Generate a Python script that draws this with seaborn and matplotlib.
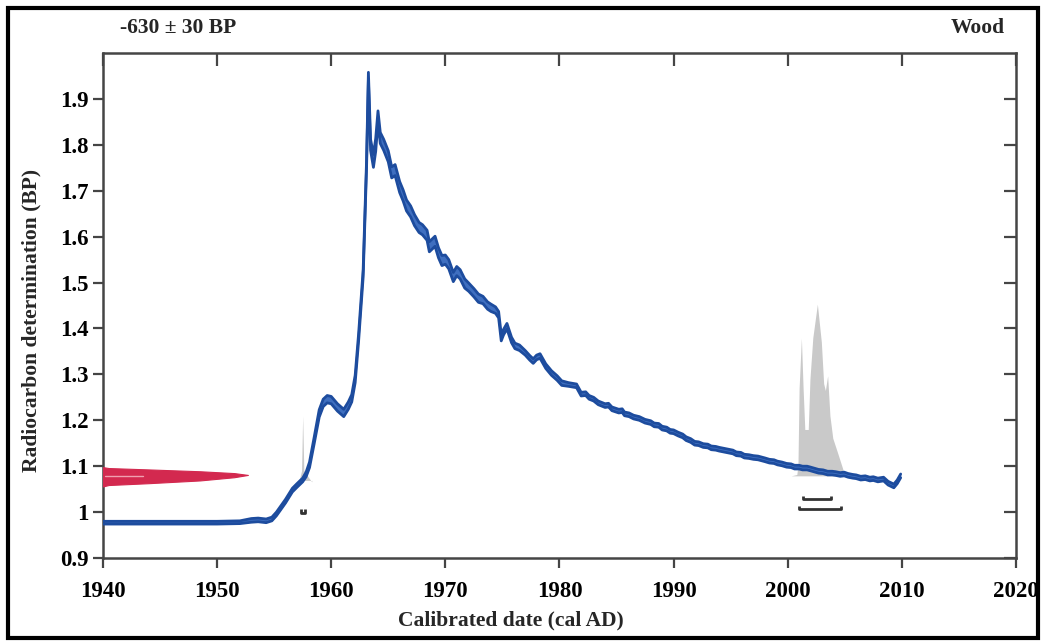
import matplotlib
matplotlib.use("Agg")
import matplotlib.pyplot as plt
import seaborn as sns
import pandas as pd
from matplotlib.patches import Rectangle

# ---------------- data ----------------
curve_year = [1940.0, 1945.0, 1950.0, 1952.0, 1953.0, 1953.6, 1954.3, 1954.8, 1955.2, 1955.6,
              1956.0, 1956.6, 1957.0, 1957.5, 1957.8, 1958.1, 1958.5, 1958.95, 1959.3, 1959.65,
              1960.0, 1960.55, 1961.1, 1961.5, 1961.8, 1962.1, 1962.4, 1962.8, 1963.1, 1963.26,
              1963.45, 1963.7, 1963.9, 1964.1, 1964.3, 1964.6, 1965.0, 1965.3, 1965.6, 1966.0,
              1966.3, 1966.6, 1966.96, 1967.3, 1967.7, 1968.0, 1968.4, 1968.6, 1969.1, 1969.4,
              1969.7, 1970.0, 1970.3, 1970.7, 1971.0, 1971.3, 1971.7, 1972.05, 1972.5, 1972.9,
              1973.3, 1973.7, 1974.0, 1974.4, 1974.67, 1974.9, 1975.1, 1975.4, 1975.8, 1976.1,
              1976.5, 1977.0, 1977.4, 1977.7, 1978.0, 1978.3, 1978.8, 1979.3, 1979.8, 1980.2,
              1980.8, 1981.5, 1981.9, 1982.3, 1982.6, 1983.0, 1983.4, 1984.0, 1984.3, 1984.6,
              1985.2, 1985.5, 1985.7, 1986.1, 1986.5, 1987.0, 1987.5, 1988.0, 1988.3, 1988.7,
              1989.0, 1989.4, 1989.7, 1990.0, 1990.4, 1990.8, 1991.1, 1991.5, 1991.85, 1992.2,
              1992.6, 1993.0, 1993.3, 1993.7, 1994.0, 1994.4, 1994.8, 1995.2, 1995.5, 1995.9,
              1996.2, 1996.6, 1997.0, 1997.4, 1997.7, 1998.0, 1998.4, 1998.8, 1999.1, 1999.5,
              1999.9, 2000.3, 2000.6, 2001.0, 2001.3, 2001.7, 2002.0, 2002.4, 2002.7, 2003.1,
              2003.5, 2003.9, 2004.2, 2004.6, 2004.95, 2005.3, 2005.7, 2006.0, 2006.4, 2006.8,
              2007.2, 2007.5, 2007.9, 2008.4, 2008.8, 2009.3, 2009.6, 2009.9]
curve_value = [0.977, 0.977, 0.977, 0.978, 0.982, 0.983, 0.981, 0.985, 0.996, 1.010,
               1.024, 1.048, 1.058, 1.070, 1.082, 1.103, 1.155, 1.215, 1.238, 1.246,
               1.244, 1.228, 1.216, 1.232, 1.248, 1.290, 1.380, 1.520, 1.760, 1.950,
               1.800, 1.765, 1.800, 1.862, 1.815, 1.800, 1.775, 1.740, 1.745, 1.708,
               1.690, 1.668, 1.655, 1.636, 1.620, 1.615, 1.603, 1.578, 1.590, 1.565,
               1.548, 1.550, 1.540, 1.512, 1.525, 1.518, 1.498, 1.490, 1.478, 1.466,
               1.462, 1.450, 1.445, 1.440, 1.430, 1.380, 1.392, 1.405, 1.375, 1.362,
               1.358, 1.347, 1.336, 1.329, 1.337, 1.340, 1.318, 1.303, 1.292, 1.281,
               1.278, 1.275, 1.257, 1.258, 1.250, 1.246, 1.238, 1.232, 1.233, 1.225,
               1.220, 1.221, 1.214, 1.212, 1.207, 1.204, 1.198, 1.195, 1.190, 1.189,
               1.183, 1.181, 1.176, 1.175, 1.170, 1.166, 1.160, 1.156, 1.150, 1.149,
               1.145, 1.144, 1.140, 1.139, 1.137, 1.135, 1.133, 1.131, 1.127, 1.126,
               1.122, 1.121, 1.119, 1.118, 1.116, 1.114, 1.111, 1.110, 1.107, 1.105,
               1.102, 1.101, 1.098, 1.098, 1.096, 1.096, 1.094, 1.091, 1.089, 1.088,
               1.085, 1.085, 1.084, 1.082, 1.083, 1.080, 1.078, 1.077, 1.074, 1.075,
               1.072, 1.073, 1.070, 1.072, 1.063, 1.057, 1.066, 1.079]
# half-width of the calibration band
curve_err = [0.003, 0.003, 0.003, 0.003, 0.004, 0.004, 0.004, 0.004, 0.004, 0.004,
             0.004, 0.004, 0.004, 0.004, 0.005, 0.006, 0.007, 0.008, 0.008, 0.008,
             0.008, 0.008, 0.008, 0.008, 0.008, 0.008, 0.008, 0.008, 0.008, 0.008,
             0.012, 0.014, 0.014, 0.012, 0.012, 0.012, 0.012, 0.012, 0.012, 0.012,
             0.012, 0.012, 0.012, 0.012, 0.011, 0.011, 0.011, 0.011, 0.011, 0.011,
             0.011, 0.010, 0.010, 0.010, 0.010, 0.010, 0.010, 0.009, 0.009, 0.009,
             0.008, 0.008, 0.008, 0.007, 0.007, 0.007, 0.006, 0.006, 0.006, 0.006,
             0.006, 0.005, 0.005, 0.005, 0.005, 0.005, 0.005, 0.005, 0.005, 0.005,
             0.004, 0.004, 0.004, 0.004, 0.004, 0.004, 0.004, 0.004, 0.004, 0.004,
             0.004, 0.004, 0.004, 0.004, 0.004, 0.004, 0.004, 0.004, 0.004, 0.004,
             0.004, 0.004, 0.004, 0.004, 0.004, 0.004, 0.004, 0.004, 0.004, 0.004,
             0.004, 0.004, 0.004, 0.004, 0.004, 0.004, 0.004, 0.004, 0.004, 0.004,
             0.004, 0.004, 0.004, 0.004, 0.004, 0.004, 0.004, 0.004, 0.004, 0.004,
             0.004, 0.004, 0.004, 0.004, 0.004, 0.004, 0.004, 0.004, 0.004, 0.004,
             0.004, 0.004, 0.004, 0.004, 0.004, 0.004, 0.004, 0.004, 0.004, 0.004,
             0.004, 0.004, 0.004, 0.004, 0.004, 0.004, 0.004, 0.004]

# measurement distribution (red), drawn outward from the y-axis
meas_value = [1.056, 1.059, 1.063, 1.069, 1.076, 1.081, 1.085, 1.089, 1.093, 1.096, 1.098]
meas_extent = [0.0, 0.5, 4.0, 8.5, 11.5, 12.7, 11.5, 8.5, 4.0, 0.5, 0.0]

# calibrated probability (grey)
prob1_year = [1957.20, 1957.40, 1957.50, 1957.60, 1958.00, 1958.30]
prob1_value = [1.070, 1.090, 1.210, 1.092, 1.076, 1.066]
prob2_year = [2000.3, 2000.8, 2000.9, 2001.0, 2001.2, 2001.35, 2001.5, 2001.8, 2001.95, 2002.2,
              2002.6, 2002.95, 2003.15, 2003.3, 2003.5, 2003.7, 2003.95, 2004.4, 2004.8, 2005.0]
prob2_value = [1.079, 1.082, 1.103, 1.270, 1.379, 1.270, 1.180, 1.180, 1.290, 1.380,
               1.453, 1.370, 1.280, 1.265, 1.297, 1.210, 1.161, 1.127, 1.096, 1.079]
prob_base = 1.079

# highest probability range brackets: (start, end, level)
range_start = [1957.35, 2001.3, 2001.0]
range_end = [1957.70, 2003.8, 2004.65]
range_level = [0.998, 1.028, 1.006]

x_ticks = [1940, 1950, 1960, 1970, 1980, 1990, 2000, 2010, 2020]
y_ticks = [0.9, 1.0, 1.1, 1.2, 1.3, 1.4, 1.5, 1.6, 1.7, 1.8, 1.9]
y_tick_labels = ["0.9", "1", "1.1", "1.2", "1.3", "1.4", "1.5", "1.6", "1.7", "1.8", "1.9"]

title_left = "-630 \u00b1 30 BP"
title_right = "Wood"
x_label = "Calibrated date (cal AD)"
y_label = "Radiocarbon determination (BP)"

# ---------------- style ----------------
sns.set_style("white")
plt.rcParams["font.family"] = ["Liberation Serif", "DejaVu Serif"]
plt.rcParams["font.weight"] = "bold"

BLUE = "#1d4c9e"
BLUE_FILL = "#3f6fc0"
RED = "#d3294f"
GREY = "#c9c9c9"
AXC = "#454545"

fig = plt.figure(figsize=(10.42, 6.42), dpi=100)
ax = fig.add_axes([0.0988, 0.1308, 0.8762, 0.7866])

# grey probability distributions (behind curve)
ax.fill_between(prob1_year, prob_base - 0.01, prob1_value, color=GREY, lw=0, zorder=1)
ax.fill_between(prob2_year, prob_base, prob2_value, color=GREY, lw=0, zorder=1)

# calibration curve band
df = pd.DataFrame({"year": curve_year, "value": curve_value, "err": curve_err})
df["upper"] = df["value"] + df["err"]
df["lower"] = df["value"] - df["err"]
ax.fill_between(df["year"], df["lower"], df["upper"], color=BLUE_FILL, lw=0, zorder=2)
sns.lineplot(data=df, x="year", y="upper", ax=ax, color=BLUE, lw=2.0,
             estimator=None, sort=False, zorder=3)
sns.lineplot(data=df, x="year", y="lower", ax=ax, color=BLUE, lw=2.0,
             estimator=None, sort=False, zorder=3)

# measurement distribution
mx = [x_ticks[0] + e for e in meas_extent]
ax.fill_betweenx(meas_value, x_ticks[0], mx, color=RED, lw=0.8, edgecolor=RED, zorder=4)
ax.plot([x_ticks[0] + 0.2, x_ticks[0] + 3.5], [1.078, 1.078], color="#f0a0b0", lw=1.0, zorder=5)

# range brackets
for s, e, lv in zip(range_start, range_end, range_level):
    ax.plot([s, s, e, e], [lv + 0.008, lv, lv, lv + 0.008], color="#333333", lw=2.0,
            solid_capstyle="butt", zorder=5)

ax.set_xlim(1940, 2020)
ax.set_ylim(0.9, 2.0)
ax.set_xticks(x_ticks)
ax.set_xticklabels([str(t) for t in x_ticks])
ax.set_yticks(y_ticks)
ax.set_yticklabels(y_tick_labels)

for sp in ax.spines.values():
    sp.set_visible(True)
    sp.set_color(AXC)
    sp.set_linewidth(1.8)

ax.tick_params(axis="both", which="major", labelsize=16.5, colors=AXC, labelcolor="black",
               width=1.6)
ax.tick_params(axis="x", bottom=True, top=True, direction="out", length=7.5, pad=9)
ax.tick_params(axis="y", left=True, right=True, direction="out", length=7.5, pad=3)
for t in ax.xaxis.get_major_ticks():
    t.tick2line.set_marker(3)  # pointing down from the top spine
    t.tick2line.set_markersize(9)
for t in ax.yaxis.get_major_ticks():
    t.tick2line.set_marker(0)  # pointing left from the right spine
    t.tick2line.set_markersize(9)
for lab in ax.get_xticklabels() + ax.get_yticklabels():
    lab.set_fontweight("bold")

ax.set_xlabel("")
ax.set_ylabel("")
fig.text(0.490, 0.034, x_label, ha="center", va="center", fontsize=15.5, fontweight="bold")
fig.text(0.030, 0.5016, y_label, ha="center", va="center", rotation=90, fontsize=15.5,
         fontweight="bold")
fig.text(0.115, 0.956, title_left, ha="left", va="center", fontsize=15.5, fontweight="bold")
fig.text(0.9645, 0.956, title_right, ha="right", va="center", fontsize=15.5, fontweight="bold")

fig.patches.append(Rectangle((0.008, 0.006), 0.988, 0.982, transform=fig.transFigure,
                             fill=False, edgecolor="black", lw=3.0))

fig.savefig("out.png", dpi=100)
